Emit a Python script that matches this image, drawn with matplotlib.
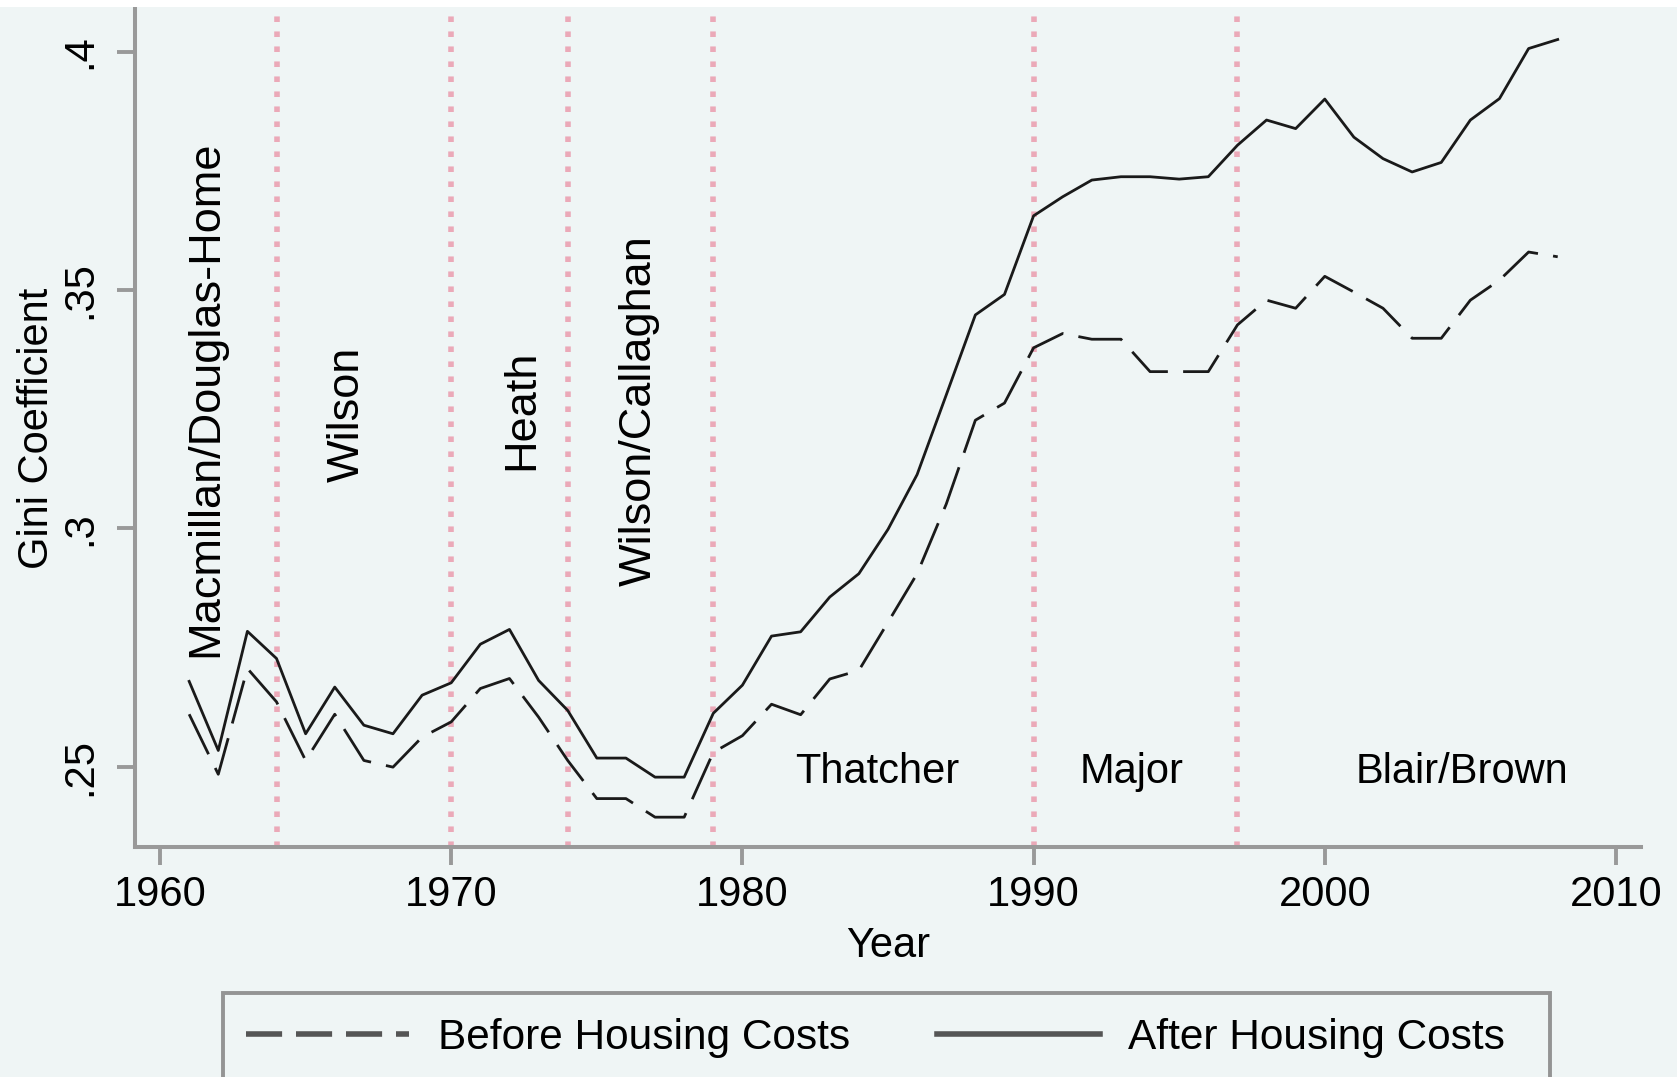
import matplotlib
matplotlib.use("Agg")
import matplotlib.pyplot as plt
from matplotlib.lines import Line2D
from matplotlib.patches import Rectangle

years = list(range(1961, 2009))
ahc = [0.2679, 0.2534, 0.2784, 0.2727, 0.2569, 0.2667, 0.2587, 0.2569, 0.2650, 0.2676,
       0.2757, 0.2788, 0.2681, 0.2618, 0.2518, 0.2518, 0.2478, 0.2478, 0.2612, 0.2671,
       0.2774, 0.2783, 0.2856, 0.2905, 0.2998, 0.3113, 0.3280, 0.3448, 0.3491, 0.3656,
       0.3696, 0.3731, 0.3738, 0.3738, 0.3733, 0.3738, 0.3804, 0.3857, 0.3839, 0.3901,
       0.3821, 0.3776, 0.3748, 0.3768, 0.3857, 0.3902, 0.4007, 0.4026]
bhc = [0.2610, 0.2484, 0.2706, 0.2636, 0.2513, 0.2610, 0.2513, 0.2499, 0.2562, 0.2594,
       0.2664, 0.2685, 0.2604, 0.2513, 0.2433, 0.2433, 0.2394, 0.2394, 0.2530, 0.2565,
       0.2631, 0.2609, 0.2684, 0.2702, 0.2803, 0.2905, 0.3051, 0.3227, 0.3263, 0.3379,
       0.3409, 0.3397, 0.3397, 0.3329, 0.3329, 0.3329, 0.3427, 0.3479, 0.3462, 0.3529,
       0.3496, 0.3462, 0.3399, 0.3399, 0.3479, 0.3521, 0.3580, 0.3570]

change_years = [1964, 1970, 1974, 1979, 1990, 1997]
pm_vertical = ["Macmillan/Douglas-Home", "Wilson", "Heath", "Wilson/Callaghan"]
pm_vertical_x = [1961.58, 1966.44, 1972.41, 1976.46]
pm_vertical_y = [0.3273, 0.3240, 0.3248, 0.3248]
pm_horizontal = ["Thatcher", "Major", "Blair/Brown"]
pm_horizontal_x = [1984.64, 1993.37, 2004.71]

xticks = [1960, 1970, 1980, 1990, 2000, 2010]
yticks = [0.25, 0.30, 0.35, 0.40]
ytick_labels = [".25", ".3", ".35", ".4"]

BG = "#eff5f5"
AXC = "#999999"
FS = 30
plt.rcParams['font.family'] = ['Liberation Sans', 'DejaVu Sans']

W, H = 1677, 1077
fig = plt.figure(figsize=(W / 100, H / 100), dpi=100, facecolor=BG)
ax = fig.add_axes([135/W, 1 - 847/H, (1641-135)/W, (847-9)/H])
ax.set_facecolor(BG)

# white band at very top
fig.patches.append(Rectangle((0, 1 - 7/H), 1, 7/H, transform=fig.transFigure,
                             facecolor="white", edgecolor="none", zorder=0))

for cy in change_years:
    ax.axvline(cy, color="#eba9b8", lw=4, ls=(0, (1.0, 1.7)), zorder=1)

ax.plot(years, bhc, color="#1a1a1a", lw=2.0, dashes=(16, 5.5), zorder=3,
        label="Before Housing Costs")
ax.plot(years, ahc, color="#1a1a1a", lw=2.0, zorder=3, label="After Housing Costs")

for name, x, y in zip(pm_vertical, pm_vertical_x, pm_vertical_y):
    ax.text(x, y, name, rotation=90, ha="center", va="center", fontsize=32.5)
for name, x in zip(pm_horizontal, pm_horizontal_x):
    ax.text(x, 0.2488, name, ha="center", va="center", fontsize=FS)

ax.set_xlim(1959.14, 2010.86)
ax.set_ylim(0.23314, 0.409)
ax.set_xticks(xticks)
ax.set_yticks(yticks)
ax.set_yticklabels(ytick_labels, rotation=90, va="center")
ax.tick_params(axis="both", labelsize=FS, length=13, width=2.8, color=AXC)
ax.tick_params(axis="x", pad=7)
ax.tick_params(axis="y", pad=12)
for s in ["top", "right"]:
    ax.spines[s].set_visible(False)
for s in ["left", "bottom"]:
    ax.spines[s].set_color(AXC)
    ax.spines[s].set_linewidth(2.9)

ax.set_xlabel("Year", fontsize=FS, labelpad=8)
ax.set_ylabel("Gini Coefficient", fontsize=FS, labelpad=2)

# legend frame (extends past the bottom edge, as in the original)
fig.patches.append(Rectangle((222.7/W, -0.05), (1549.5-222.7)/W, 0.05 + 1 - 993/H,
                             transform=fig.transFigure, facecolor=BG,
                             edgecolor="#949494", lw=2.8, zorder=1))

handles = [Line2D([], [], color="#555555", lw=4, dashes=(6.5, 2.5)),
           Line2D([], [], color="#555555", lw=4)]
leg = fig.legend(handles, ["Before Housing Costs", "After Housing Costs"],
                 loc="center left", bbox_to_anchor=(245.7/W, 1 - 1038/H),
                 ncol=2, fontsize=30.5, frameon=False,
                 handlelength=3.85, handletextpad=0.68, columnspacing=2.05,
                 borderpad=0, borderaxespad=0)

fig.savefig("out.png", dpi=100, facecolor=BG)
